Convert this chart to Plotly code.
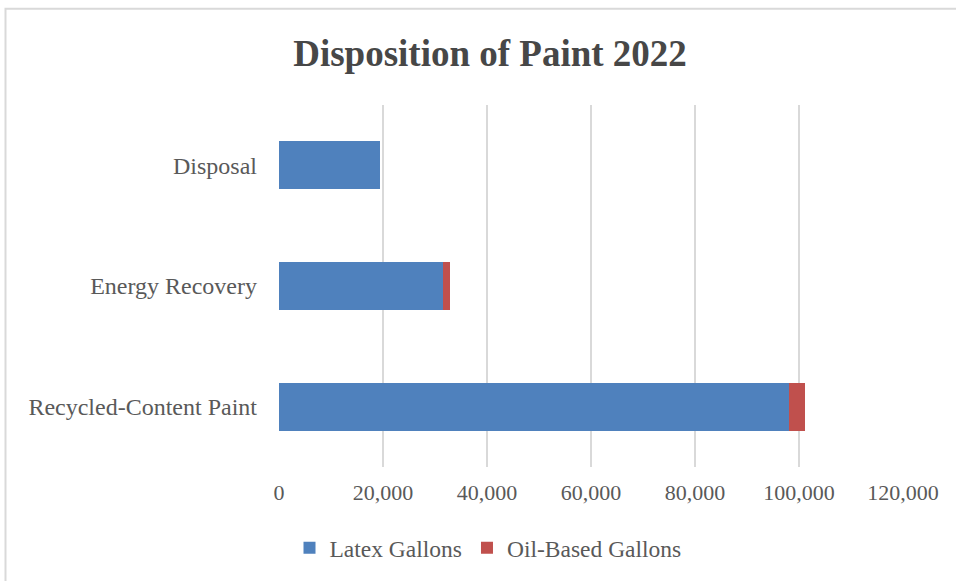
import plotly.graph_objects as go

categories = ["Recycled-Content Paint", "Energy Recovery", "Disposal"]
latex_gallons = [98100, 31500, 19500]
oil_gallons = [3000, 1300, 0]
x_ticks = [0, 20000, 40000, 60000, 80000, 100000, 120000]

FONT = "Liberation Serif, Times New Roman, serif"
GRAY = "#595959"

fig = go.Figure()
fig.add_trace(go.Bar(y=categories, x=latex_gallons, orientation="h", name="Latex Gallons",
                     marker=dict(color="#4F81BD", line=dict(width=0))))
fig.add_trace(go.Bar(y=categories, x=oil_gallons, orientation="h", name="Oil-Based Gallons",
                     marker=dict(color="#C0504D", line=dict(width=0))))

L, R, T, B = 279, 53, 105, 113
W, H = 956, 581
pw, ph = W - L - R, H - T - B

fig.update_layout(
    width=W, height=H,
    margin=dict(l=L, r=R, t=T, b=B),
    barmode="stack", bargap=0.6,
    plot_bgcolor="white", paper_bgcolor="white",
    font=dict(family=FONT, color=GRAY, size=22),
    title=dict(text="<b>Disposition of Paint 2022</b>", x=490 / W, xanchor="center",
               y=1 - 53 / H, yanchor="middle",
               font=dict(family=FONT, size=37, color="#474747")),
    xaxis=dict(range=[0, 120000], tickvals=x_ticks, tickformat=",", showgrid=True,
               gridcolor="#d9d9d9", gridwidth=2, zeroline=False, showline=False,
               tickfont=dict(size=22, color=GRAY), ticklabelstandoff=10),
    yaxis=dict(showgrid=False, showline=False, ticks="", ticklabelstandoff=21,
               tickfont=dict(size=24, color=GRAY)),
    legend=dict(orientation="h", x=(488 - L) / pw, xanchor="center",
                y=(H - B - 548) / ph, yanchor="middle",
                font=dict(size=23.5, color=GRAY), itemwidth=30, traceorder="normal"),
    showlegend=True,
)

# outer chart border (light gray frame)
fig.add_shape(type="rect", xref="paper", yref="paper",
              x0=(5.5 - L) / pw, x1=(W + 20 - L) / pw,
              y0=(H - B - (H + 20)) / ph, y1=(H - B - 8.5) / ph,
              line=dict(color="#d9d9d9", width=2), fillcolor="rgba(0,0,0,0)", layer="below")

fig.write_html("out.html")
